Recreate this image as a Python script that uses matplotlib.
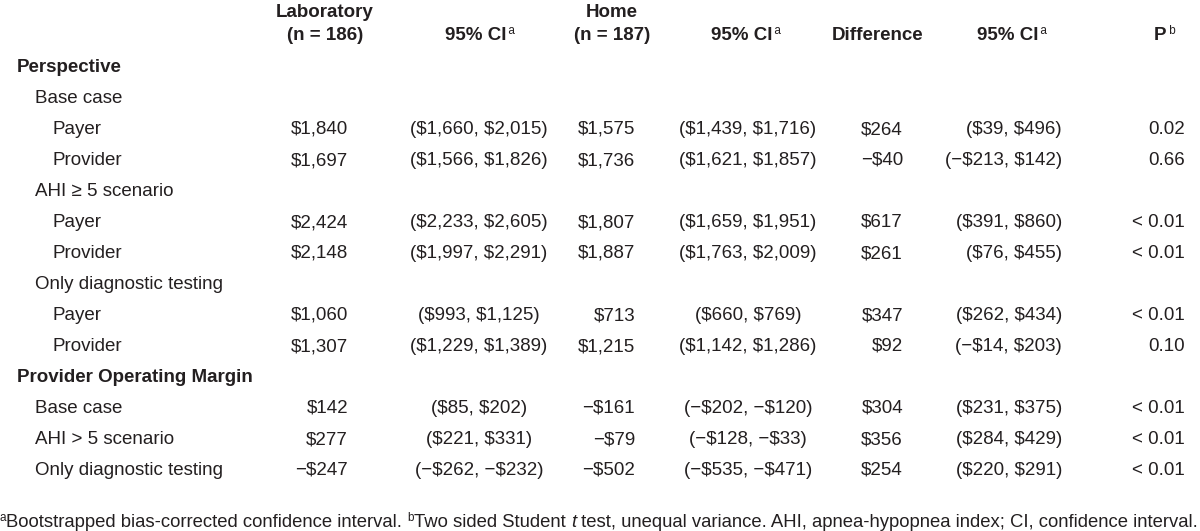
import matplotlib
matplotlib.use("Agg")
import matplotlib.pyplot as plt
from matplotlib import font_manager

names = {f.name for f in font_manager.fontManager.ttflist}
if "Liberation Sans Narrow" in names:
    FONT = "Liberation Sans Narrow"
    FS = 15.5
else:
    FONT = "Liberation Sans"
    FS = 13.5
INK = "#231f20"

# ---- table content ----
labels = ["Perspective", "Base case", "Payer", "Provider", "AHI \u2265 5 scenario",
          "Payer", "Provider", "Only diagnostic testing", "Payer", "Provider",
          "Provider Operating Margin", "Base case", "AHI > 5 scenario",
          "Only diagnostic testing"]
levels = [0, 1, 2, 2, 1, 2, 2, 1, 2, 2, 0, 1, 1, 1]

lab = ["", "", "$1,840", "$1,697", "", "$2,424", "$2,148", "", "$1,060", "$1,307",
       "", "$142", "$277", "\u2212$247"]
lab_ci = ["", "", "($1,660, $2,015)", "($1,566, $1,826)", "", "($2,233, $2,605)",
          "($1,997, $2,291)", "", "($993, $1,125)", "($1,229, $1,389)", "",
          "($85, $202)", "($221, $331)", "(\u2212$262, \u2212$232)"]
home = ["", "", "$1,575", "$1,736", "", "$1,807", "$1,887", "", "$713", "$1,215",
        "", "\u2212$161", "\u2212$79", "\u2212$502"]
home_ci = ["", "", "($1,439, $1,716)", "($1,621, $1,857)", "", "($1,659, $1,951)",
           "($1,763, $2,009)", "", "($660, $769)", "($1,142, $1,286)", "",
           "(\u2212$202, \u2212$120)", "(\u2212$128, \u2212$33)", "(\u2212$535, \u2212$471)"]
diff = ["", "", "$264", "\u2212$40", "", "$617", "$261", "", "$347", "$92",
        "", "$304", "$356", "$254"]
diff_ci = ["", "", "($39, $496)", "(\u2212$213, $142)", "", "($391, $860)",
           "($76, $455)", "", "($262, $434)", "(\u2212$14, $203)", "",
           "($231, $375)", "($284, $429)", "($220, $291)"]
pvals = ["", "", "0.02", "0.66", "", "< 0.01", "< 0.01", "", "< 0.01", "0.10",
         "", "< 0.01", "< 0.01", "< 0.01"]

fig = plt.figure(figsize=(12, 5.31), dpi=100)
ax = fig.add_axes([0, 0, 1, 1])
ax.set_xlim(0, 1200)
ax.set_ylim(531, 0)
ax.axis("off")
renderer = fig.canvas.get_renderer()


def txt(x, y, s, ha="left", size=FS, weight="normal", style="normal"):
    return ax.text(x, y, s, ha=ha, va="baseline", fontsize=size, fontweight=weight,
                   fontstyle=style, family=FONT, color=INK, parse_math=False)


def width(t):
    return t.get_window_extent(renderer).width


def runs(x, y, pieces, ha="left"):
    # pieces: (text, size, weight, style, dy) laid out left to right
    made = [txt(0, y + dy, s, size=size, weight=weight, style=style)
            for s, size, weight, style, dy in pieces]
    total = sum(width(t) for t in made)
    if ha == "center":
        x = x - total / 2
    elif ha == "right":
        x = x - total
    for t in made:
        t.set_x(x)
        x += width(t)
    return total


SUP = 8.5
# ---- header ----
txt(325, 17, "Laboratory", ha="center", weight="bold")
txt(325, 40, "(n = 186)", ha="center", weight="bold")
txt(612, 17, "Home", ha="center", weight="bold")
txt(612, 40, "(n = 187)", ha="center", weight="bold")
txt(878, 40, "Difference", ha="center", weight="bold")
for cx in (480, 746, 1012):
    runs(cx, 40, [("95% CI", FS, "bold", "normal", 0),
                  ("\u2009a", SUP, "normal", "normal", -6)], ha="center")
runs(1165, 40, [("P", FS, "bold", "normal", 0),
                (" b", SUP, "normal", "normal", -6)], ha="center")

# ---- body ----
indent = [17, 35, 52]
for i, lbl in enumerate(labels):
    yb = 72 + 31 * i
    txt(indent[levels[i]], yb, lbl, weight="bold" if levels[i] == 0 else "normal")
    txt(348, yb, lab[i], ha="right")
    txt(479, yb, lab_ci[i], ha="center")
    txt(635, yb, home[i], ha="right")
    txt(748, yb, home_ci[i], ha="center")
    txt(903, yb, diff[i], ha="right")
    txt(1062, yb, diff_ci[i], ha="right")
    txt(1185, yb, pvals[i], ha="right")

# ---- footnote ----
FN = FS * 0.985
runs(0, 527, [("a", SUP, "normal", "normal", -6),
              ("Bootstrapped bias-corrected confidence interval. ", FN, "normal", "normal", 0),
              ("b", SUP, "normal", "normal", -6),
              ("Two sided Student ", FN, "normal", "normal", 0),
              ("t", FN, "normal", "italic", 0),
              (" test, unequal variance. AHI, apnea-hypopnea index; CI, confidence interval.",
               FN, "normal", "normal", 0)])

fig.savefig("out.png", dpi=100)
